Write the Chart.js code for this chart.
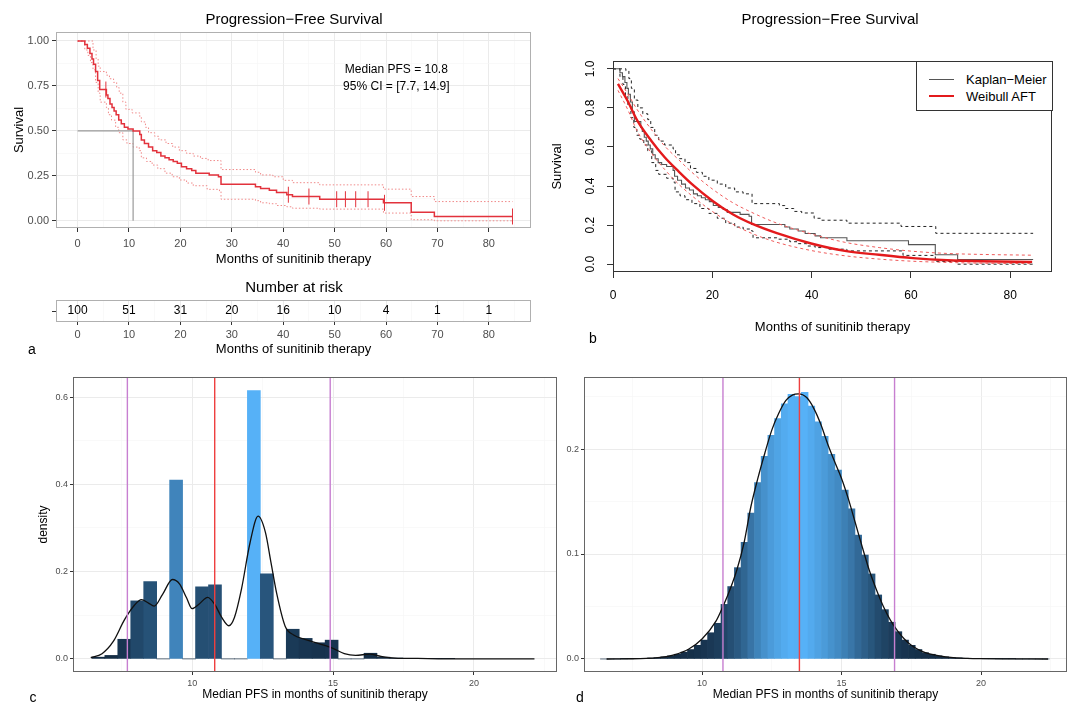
<!DOCTYPE html>
<html>
<head>
<meta charset="utf-8">
<title>Progression-Free Survival</title>
<script src="https://cdn.jsdelivr.net/npm/chart.js@4.4.1/dist/chart.umd.min.js"></script>
<style>
  body { margin: 0; background: #fff; font-family: "Liberation Sans", Arial, sans-serif; }
  #wrap { position: relative; width: 1072px; height: 704px; overflow: hidden; background: #fff; }
  canvas { position: absolute; }
  .t { position: absolute; transform: translate(-50%, -50%); white-space: nowrap; color: #000; }
  #legendB { position: absolute; left: 916px; top: 61px; width: 135px; height: 48px; border: 1px solid #333; background: #fff; font-size: 13px; }
  #legendB .ln { position: absolute; left: 12px; width: 25px; }
  #legendB .tx { position: absolute; left: 49px; transform: translateY(-50%); white-space: nowrap; }
</style>
</head>
<body>
<div id="wrap">
  <canvas id="chartA" width="540" height="272" style="left:0;top:0"></canvas>
  <canvas id="chartRisk" width="540" height="80" style="left:0;top:278px"></canvas>
  <canvas id="chartB" width="532" height="350" style="left:540px;top:0"></canvas>
  <canvas id="chartC" width="565" height="344" style="left:0;top:360px"></canvas>
  <canvas id="chartD" width="532" height="344" style="left:540px;top:360px"></canvas>

  <div class="t" style="left:294px;top:18px;font-size:15px">Progression−Free Survival</div>
  <div class="t" style="left:294px;top:286px;font-size:15px">Number at risk</div>
  <div class="t" style="left:830px;top:18px;font-size:15px">Progression−Free Survival</div>
  <div class="t" style="left:32px;top:349px;font-size:14px">a</div>
  <div class="t" style="left:593px;top:338px;font-size:14px">b</div>
  <div class="t" style="left:33px;top:697px;font-size:14px">c</div>
  <div class="t" style="left:580px;top:697px;font-size:14px">d</div>

  <div id="legendB">
    <div class="ln" style="top:17px;border-top:1px solid #555"></div>
    <div class="tx" style="top:17px">Kaplan−Meier</div>
    <div class="ln" style="top:33px;border-top:2px solid #e31a1c"></div>
    <div class="tx" style="top:34px">Weibull AFT</div>
  </div>
</div>

<script>
// ---- Kaplan-Meier estimate (panels a and b) ----
const kmTime = [0, 1.4, 1.9, 2.4, 2.8, 3.1, 3.5, 3.9, 4.3, 5.6, 5.9, 6.3, 6.7, 7.1, 7.5, 8.0, 8.5, 9.1, 9.8, 10.8, 12.1, 12.4, 13.0, 13.8, 14.6, 15.4, 16.2, 17.0, 17.8, 18.6, 19.4, 20.2, 21.2, 22.2, 23.0, 25.6, 27.4, 27.9, 34.6, 35.6, 37.3, 38.7, 40.7, 41.8, 47.1, 59.5, 64.9, 69.4, 84.6];
const kmSurv = [1.00, 0.98, 0.96, 0.93, 0.90, 0.87, 0.83, 0.78, 0.73, 0.70, 0.68, 0.65, 0.63, 0.61, 0.59, 0.56, 0.54, 0.52, 0.51, 0.50, 0.48, 0.45, 0.43, 0.41, 0.39, 0.38, 0.36, 0.35, 0.34, 0.33, 0.32, 0.30, 0.29, 0.28, 0.265, 0.255, 0.245, 0.203, 0.19, 0.18, 0.17, 0.157, 0.145, 0.135, 0.12, 0.10, 0.048, 0.024, 0.024];
const censorTime = [5.5, 41.0, 45.0, 50.4, 52.1, 54.1, 56.5, 59.7, 84.6];
const censorSurv = [0.73, 0.145, 0.135, 0.12, 0.12, 0.12, 0.12, 0.10, 0.024];

// 95% band, panel a (ggsurvplot)
const ciUpTimeA = [0, 3.0, 3.6, 4.0, 4.4, 5.6, 6.2, 7.0, 7.6, 8.1, 8.8, 9.4, 10.6, 12.1, 12.4, 13.2, 13.8, 15.0, 15.8, 17.2, 18.5, 19.8, 21.2, 22.5, 23.9, 25.4, 27.9, 34.6, 35.6, 38.0, 40.0, 41.8, 47.1, 59.5, 64.9, 69.4, 84.6];
const ciUpA = [1.00, 0.95, 0.90, 0.86, 0.83, 0.81, 0.79, 0.77, 0.74, 0.71, 0.66, 0.62, 0.60, 0.58, 0.55, 0.52, 0.49, 0.47, 0.45, 0.43, 0.41, 0.39, 0.375, 0.36, 0.347, 0.335, 0.285, 0.27, 0.255, 0.245, 0.225, 0.212, 0.20, 0.176, 0.135, 0.107, 0.107];
const ciLoTimeA = [0, 1.4, 2.0, 2.5, 3.0, 3.5, 4.0, 4.4, 5.6, 6.0, 6.6, 7.4, 8.0, 8.8, 9.6, 10.8, 12.0, 12.4, 13.4, 14.5, 15.6, 17.0, 18.4, 19.8, 21.2, 22.5, 25.2, 27.6, 27.9, 34.6, 35.6, 37.3, 38.7, 40.7, 41.8, 47.1, 59.5, 64.9, 69.4, 84.6];
const ciLoA = [1.00, 0.95, 0.92, 0.88, 0.84, 0.77, 0.71, 0.66, 0.63, 0.59, 0.56, 0.52, 0.49, 0.45, 0.43, 0.41, 0.39, 0.35, 0.33, 0.31, 0.29, 0.265, 0.245, 0.227, 0.21, 0.195, 0.175, 0.163, 0.12, 0.112, 0.10, 0.095, 0.085, 0.078, 0.07, 0.065, 0.043, 0.006, 0.0, 0.0];
const medianPFS = 10.8;

// number at risk table
const riskTimes = [0, 10, 20, 30, 40, 50, 60, 70, 80];
const riskCounts = [100, 51, 31, 20, 16, 10, 4, 1, 1];

// 95% band, panel b (base R survfit)
const ciUpTimeB = [0, 2.6, 3.2, 3.7, 4.3, 5.0, 6.0, 7.0, 7.6, 8.4, 9.2, 10.4, 12.1, 12.6, 13.4, 14.5, 15.6, 16.8, 18.0, 19.3, 21.0, 22.7, 24.5, 26.2, 28.0, 33.5, 34.6, 36.4, 38.0, 40.5, 42.0, 47.1, 58.0, 65.0, 84.6];
const ciUpB = [1.0, 0.99, 0.95, 0.90, 0.84, 0.80, 0.77, 0.74, 0.70, 0.66, 0.63, 0.61, 0.59, 0.56, 0.54, 0.52, 0.49, 0.47, 0.45, 0.43, 0.41, 0.39, 0.37, 0.36, 0.31, 0.30, 0.285, 0.27, 0.262, 0.235, 0.225, 0.21, 0.193, 0.158, 0.158];
const ciLoTimeB = [0, 1.4, 2.0, 2.5, 3.0, 3.6, 4.2, 4.8, 5.4, 6.2, 7.0, 7.8, 8.6, 9.2, 10.8, 12.1, 12.5, 13.5, 14.5, 15.9, 17.5, 19.3, 21.0, 22.7, 24.5, 26.2, 27.9, 28.2, 33.0, 35.6, 37.3, 39.0, 40.7, 43.3, 47.1, 58.4, 64.9, 69.4, 84.6];
const ciLoB = [1.0, 0.96, 0.92, 0.86, 0.81, 0.75, 0.70, 0.66, 0.64, 0.61, 0.58, 0.52, 0.48, 0.46, 0.44, 0.42, 0.37, 0.35, 0.33, 0.31, 0.285, 0.26, 0.235, 0.21, 0.19, 0.18, 0.17, 0.135, 0.128, 0.115, 0.105, 0.093, 0.085, 0.077, 0.068, 0.045, 0.014, 0.0, 0.0];

// Weibull AFT fit with its band
const wbTime = [1.0, 2.9, 4.9, 7.7, 10.4, 13.2, 15.9, 20.0, 24.1, 28.2, 33.0, 39.9, 46.7, 53.6, 60.4, 67.3, 74.1, 84.4];
const wbSurv = [0.923, 0.838, 0.735, 0.632, 0.547, 0.475, 0.41, 0.325, 0.256, 0.205, 0.159, 0.106, 0.068, 0.048, 0.031, 0.02, 0.015, 0.012];
const wbUpper = [0.95, 0.875, 0.79, 0.69, 0.605, 0.535, 0.47, 0.385, 0.315, 0.262, 0.21, 0.155, 0.112, 0.085, 0.066, 0.055, 0.05, 0.046];
const wbLower = [0.89, 0.795, 0.68, 0.57, 0.485, 0.41, 0.35, 0.27, 0.205, 0.155, 0.112, 0.07, 0.043, 0.026, 0.015, 0.009, 0.005, 0.003];

// ---- panel c: bootstrap medians (KM) ----
const histXC = [6.67, 7.13, 7.59, 8.05, 8.51, 8.97, 9.43, 9.89, 10.35, 10.81, 11.27, 11.73, 12.19, 12.65, 13.11, 13.57, 14.03, 14.49, 14.95, 15.41, 15.87, 16.33, 16.79, 17.25, 17.71, 18.17, 18.63, 19.09];
const histYC = [0.004, 0.008, 0.045, 0.133, 0.177, 0, 0.41, 0, 0.165, 0.17, 0, 0, 0.615, 0.195, 0, 0.068, 0.047, 0.037, 0.043, 0, 0, 0.013, 0.004, 0.002, 0.001, 0.001, 0.0005, 0.0005];
const densXC = [6.4, 6.8, 7.2, 7.6, 7.95, 8.2, 8.45, 8.65, 8.95, 9.3, 9.55, 9.8, 10.0, 10.25, 10.55, 10.8, 11.05, 11.3, 11.5, 11.75, 12.05, 12.34, 12.6, 12.8, 13.0, 13.3, 13.6, 14.0, 14.5, 15.0, 15.4, 15.8, 16.3, 16.7, 17.2, 18.0, 19.0, 22.15];
const densYC = [0.003, 0.012, 0.04, 0.09, 0.123, 0.136, 0.128, 0.121, 0.148, 0.182, 0.172, 0.14, 0.115, 0.126, 0.141, 0.125, 0.095, 0.076, 0.095, 0.16, 0.265, 0.327, 0.29, 0.22, 0.15, 0.075, 0.055, 0.045, 0.035, 0.024, 0.012, 0.008, 0.011, 0.006, 0.002, 0.001, 0.0, 0.0];
const medianC = 10.8;
const ciC = [7.7, 14.9];

// ---- panel d: bootstrap medians (Weibull) ----
const histXD = [6.48, 6.72, 6.96, 7.20, 7.44, 7.68, 7.92, 8.16, 8.40, 8.64, 8.88, 9.12, 9.36, 9.60, 9.84, 10.08, 10.32, 10.56, 10.80, 11.04, 11.28, 11.52, 11.76, 12.00, 12.24, 12.48, 12.72, 12.96, 13.20, 13.44, 13.68, 13.92, 14.16, 14.40, 14.64, 14.88, 15.12, 15.36, 15.60, 15.84, 16.08, 16.32, 16.56, 16.80, 17.04, 17.28, 17.52, 17.76, 18.00, 18.24, 18.48, 18.72, 18.96, 19.20, 19.44, 19.68, 19.92, 20.16, 20.40, 20.64, 20.88, 21.12, 21.36, 21.60, 21.84, 22.08, 22.32];
const histYD = [0, 0, 0, 0.0001, 0.0002, 0.0003, 0.0005, 0.0008, 0.0012, 0.002, 0.003, 0.0045, 0.0065, 0.009, 0.013, 0.018, 0.025, 0.034, 0.052, 0.069, 0.087, 0.111, 0.139, 0.168, 0.193, 0.213, 0.229, 0.243, 0.252, 0.250, 0.254, 0.241, 0.226, 0.212, 0.195, 0.180, 0.161, 0.143, 0.118, 0.099, 0.081, 0.061, 0.047, 0.035, 0.026, 0.018, 0.013, 0.009, 0.006, 0.0045, 0.003, 0.002, 0.0014, 0.001, 0.0007, 0.0005, 0.0003, 0.0002, 0.0002, 0.0001, 0.0001, 0.0001, 0, 0, 0, 0, 0];
const densXD = [6.58, 7.5, 8.0, 8.5, 9.0, 9.5, 10.0, 10.5, 10.75, 11.0, 11.25, 11.5, 11.75, 12.0, 12.25, 12.5, 12.75, 13.0, 13.25, 13.45, 13.75, 14.0, 14.25, 14.5, 14.75, 15.0, 15.25, 15.5, 15.75, 16.0, 16.25, 16.5, 16.75, 17.0, 17.25, 17.5, 17.75, 18.0, 18.5, 19.0, 19.5, 20.0, 21.0, 22.4];
const densYD = [0, 0.0002, 0.0006, 0.0015, 0.004, 0.009, 0.019, 0.036, 0.05, 0.066, 0.085, 0.11, 0.145, 0.172, 0.196, 0.218, 0.234, 0.246, 0.2515, 0.2525, 0.249, 0.239, 0.224, 0.205, 0.188, 0.172, 0.152, 0.129, 0.106, 0.084, 0.066, 0.05, 0.037, 0.027, 0.019, 0.013, 0.009, 0.006, 0.003, 0.0013, 0.0006, 0.0003, 0.0001, 0];
const medianD = 13.49;
const ciD = [10.75, 16.9];

// axis ticks (minor ones get a grid line but no label)
const xTicksA = [0, 5, 10, 15, 20, 25, 30, 35, 40, 45, 50, 55, 60, 65, 70, 75, 80, 85];
const xMajorA = [0, 10, 20, 30, 40, 50, 60, 70, 80];
const yTicksA = [0, 0.125, 0.25, 0.375, 0.5, 0.625, 0.75, 0.875, 1];
const yMajorA = [0, 0.25, 0.5, 0.75, 1];
const xTicksB = [0, 20, 40, 60, 80];
const yTicksB = [0, 0.2, 0.4, 0.6, 0.8, 1.0];
const xTicksCD = [7.5, 10, 12.5, 15, 17.5, 20, 22.5];
const xMajorCD = [10, 15, 20];
const yTicksC = [0, 0.1, 0.2, 0.3, 0.4, 0.5, 0.6];
const yMajorC = [0, 0.2, 0.4, 0.6];
const yTicksD = [0, 0.05, 0.1, 0.15, 0.2, 0.25];
const yMajorD = [0, 0.1, 0.2];

Chart.defaults.font.family = '"Liberation Sans", Arial, sans-serif';
Chart.defaults.animation = false;
Chart.defaults.events = [];
Chart.defaults.plugins.legend.display = false;
Chart.defaults.plugins.tooltip.enabled = false;

// pair two arrays into points
function pts(xs, ys) {
  return xs.map((x, i) => ({ x: x, y: ys[i] }));
}

// ggplot style fill: dark navy for low counts, light blue for the tallest bar
function fillFor(v, max) {
  const lo = [19, 43, 67], hi = [86, 177, 247];
  const t = v / max;
  const c = lo.map((l, i) => Math.round(l + (hi[i] - l) * t));
  return `rgb(${c[0]}, ${c[1]}, ${c[2]})`;
}

// box round the plotting area
function frame(color) {
  return {
    id: 'frame',
    afterDatasetsDraw(chart) {
      const a = chart.chartArea, ctx = chart.ctx;
      ctx.save();
      ctx.strokeStyle = color;
      ctx.lineWidth = 1;
      ctx.strokeRect(Math.round(a.left) + 0.5, Math.round(a.top) + 0.5, Math.round(a.width) - 1, Math.round(a.height) - 1);
      ctx.restore();
    }
  };
}

// text placed at data coordinates
function notes(items, font) {
  return {
    id: 'notes',
    afterDatasetsDraw(chart) {
      const ctx = chart.ctx;
      ctx.save();
      ctx.font = font;
      ctx.fillStyle = '#000';
      ctx.textAlign = 'center';
      ctx.textBaseline = 'middle';
      items.forEach(it => {
        ctx.fillText(it.text, chart.scales.x.getPixelForValue(it.x), chart.scales.y.getPixelForValue(it.y));
      });
      ctx.restore();
    }
  };
}

// ggplot-like linear axis
function ggAxis(o) {
  const major = c => c.tick && o.majors.includes(c.tick.value);
  return {
    type: 'linear', min: o.min, max: o.max, offset: false,
    afterBuildTicks: ax => { ax.ticks = o.ticks.map(v => ({ value: v })); },
    afterFit: ax => { if (o.width) ax.width = o.width; if (o.height) ax.height = o.height; },
    grid: {
      offset: false,
      color: c => major(c) ? '#ebebeb' : '#f5f5f5',
      lineWidth: c => major(c) ? 1 : 0.6,
      tickColor: c => major(c) ? '#333' : 'rgba(0,0,0,0)',
      tickLength: o.tickLength || 3,
      drawOnChartArea: o.noGrid ? false : true
    },
    border: { display: false },
    ticks: {
      autoSkip: false, maxRotation: 0, padding: o.pad || 3, color: '#4d4d4d',
      font: { size: o.fs || 10 },
      callback: v => o.majors.includes(v) ? o.fmt(v) : ''
    },
    title: o.title
      ? { display: true, text: o.title, color: '#000', font: { size: o.tfs || 12 }, padding: o.tpad }
      : { display: false }
  };
}

function vline(x, y0, y1, color) {
  return { type: 'line', data: [{ x: x, y: y0 }, { x: x, y: y1 }], borderColor: color, borderWidth: 1.4, pointRadius: 0, order: 0 };
}

// ---- panel a ----
// stepped: 'before' keeps the old value until the next event time, then drops
new Chart(document.getElementById('chartA'), {
  type: 'line',
  data: {
    datasets: [
      { data: pts(kmTime, kmSurv), stepped: 'before', borderColor: '#e2323c', borderWidth: 1.5, pointRadius: 0, order: 1 },
      { data: pts(censorTime, censorSurv), showLine: false, pointStyle: 'line', pointRotation: 90, pointRadius: 8,
        borderColor: '#e2323c', borderWidth: 1, order: 0 },
      { data: [{ x: 0, y: 0.5 }, { x: medianPFS, y: 0.5 }, { x: medianPFS, y: 0 }], borderColor: '#9a9a9a', borderWidth: 1.2, pointRadius: 0, order: 2 },
      { data: pts(ciUpTimeA, ciUpA), stepped: 'before', borderColor: '#f08a8a', borderWidth: 1, borderDash: [1.5, 2], pointRadius: 0, order: 3 },
      { data: pts(ciLoTimeA, ciLoA), stepped: 'before', borderColor: '#f08a8a', borderWidth: 1, borderDash: [1.5, 2], pointRadius: 0, order: 3 }
    ]
  },
  options: {
    responsive: false,
    layout: { padding: { left: 0, top: 32, right: 9, bottom: 0 } },
    scales: {
      x: ggAxis({ min: -4.2, max: 88.2, ticks: xTicksA, majors: xMajorA, fmt: v => String(v), height: 44, tickLength: 4, pad: 5, fs: 11,
        title: 'Months of sunitinib therapy', tfs: 13, tpad: { top: 0, bottom: 5 } }),
      y: ggAxis({ min: -0.04, max: 1.05, ticks: yTicksA, majors: yMajorA, fmt: v => v.toFixed(2), width: 56, tickLength: 4, pad: 3, fs: 11,
        title: 'Survival', tfs: 13, tpad: { top: 12, bottom: 0 } })
    }
  },
  plugins: [frame('#b0b0b0'), notes([
    { x: 62, y: 0.84, text: 'Median PFS = 10.8' },
    { x: 62, y: 0.745, text: '95% CI = [7.7, 14.9]' }
  ], '12px "Liberation Sans", Arial, sans-serif')]
});

// ---- number at risk ----
new Chart(document.getElementById('chartRisk'), {
  type: 'scatter',
  data: { datasets: [{ data: riskTimes.map(t => ({ x: t, y: 0 })), pointRadius: 0 }] },
  options: {
    responsive: false,
    layout: { padding: { left: 0, top: 22, right: 9, bottom: 0 } },
    scales: {
      x: ggAxis({ min: -4.2, max: 88.2, ticks: xTicksA, majors: xMajorA, fmt: v => String(v), height: 36, tickLength: 3, pad: 3, fs: 11,
        title: 'Months of sunitinib therapy', tfs: 13, tpad: { top: 0, bottom: 1 } }),
      y: ggAxis({ min: -1, max: 1, ticks: [0], majors: [0], fmt: () => '', width: 56, tickLength: 4, noGrid: true })
    }
  },
  plugins: [frame('#b0b0b0'), notes(riskTimes.map((t, i) => ({ x: t, y: 0, text: String(riskCounts[i]) })), '12px "Liberation Sans", Arial, sans-serif')]
});

// ---- panel b (base R look) ----
function rAxis(o) {
  return {
    type: 'linear', min: o.min, max: o.max,
    afterBuildTicks: ax => { ax.ticks = o.ticks.map(v => ({ value: v })); },
    afterFit: ax => { if (o.width) ax.width = o.width; if (o.height) ax.height = o.height; },
    grid: { drawOnChartArea: false, tickLength: 6, tickColor: '#333', color: '#333' },
    border: { display: false },
    ticks: Object.assign({ autoSkip: false, color: '#000', font: { size: 12 }, padding: o.pad, callback: o.fmt }, o.rot),
    title: { display: true, text: o.title, color: '#000', font: { size: 13 }, padding: o.tpad }
  };
}

new Chart(document.getElementById('chartB'), {
  type: 'line',
  data: {
    datasets: [
      { data: pts(wbTime, wbSurv), borderColor: '#e31a1c', borderWidth: 2.4, pointRadius: 0, cubicInterpolationMode: 'monotone', order: 0 },
      { data: pts(wbTime, wbUpper), borderColor: '#ef5a5a', borderWidth: 1, borderDash: [3, 3], pointRadius: 0, cubicInterpolationMode: 'monotone', order: 1 },
      { data: pts(wbTime, wbLower), borderColor: '#ef5a5a', borderWidth: 1, borderDash: [3, 3], pointRadius: 0, cubicInterpolationMode: 'monotone', order: 1 },
      { data: pts(kmTime, kmSurv), stepped: 'before', borderColor: '#555', borderWidth: 1.1, pointRadius: 0, order: 2 },
      { data: pts(ciUpTimeB, ciUpB), stepped: 'before', borderColor: '#222', borderWidth: 1, borderDash: [3, 3], pointRadius: 0, order: 3 },
      { data: pts(ciLoTimeB, ciLoB), stepped: 'before', borderColor: '#222', borderWidth: 1, borderDash: [3, 3], pointRadius: 0, order: 3 }
    ]
  },
  options: {
    responsive: false,
    layout: { padding: { left: 0, top: 61, right: 20, bottom: 0 } },
    scales: {
      x: rAxis({ min: 0, max: 88.4, ticks: xTicksB, fmt: v => String(v), height: 78, pad: 10, rot: { maxRotation: 0 },
        title: 'Months of sunitinib therapy', tpad: { top: 0, bottom: 15 } }),
      y: rAxis({ min: -0.04, max: 1.04, ticks: yTicksB, fmt: v => v.toFixed(1), width: 73, pad: 8,
        rot: { minRotation: 90, maxRotation: 90, crossAlign: 'center' },
        title: 'Survival', tpad: { top: 10, bottom: 0 } })
    }
  },
  plugins: [frame('#333')]
});

// ---- panels c and d: histogram + density + median / CI lines ----
function bootChart(id, o) {
  const maxY = Math.max(...o.histY);
  new Chart(document.getElementById(id), {
    type: 'bar',
    data: {
      datasets: [
        vline(o.median, o.yMin, o.yMax, '#ee4040'),
        vline(o.ci[0], o.yMin, o.yMax, '#c77fd0'),
        vline(o.ci[1], o.yMin, o.yMax, '#c77fd0'),
        { type: 'line', data: pts(o.densX, o.densY), borderColor: '#111', borderWidth: 1.3, pointRadius: 0,
          cubicInterpolationMode: 'monotone', order: 1 },
        { data: pts(o.histX, o.histY), backgroundColor: o.histY.map(v => fillFor(v, maxY)), borderWidth: 0,
          barPercentage: 1, categoryPercentage: 1, order: 2 }
      ]
    },
    options: {
      responsive: false,
      layout: { padding: { left: 0, top: 17, right: o.padRight, bottom: 0 } },
      scales: {
        x: ggAxis({ min: 5.77, max: o.xMax, ticks: xTicksCD, majors: xMajorCD, fmt: v => String(v), height: 32, pad: 3, fs: 9,
          title: 'Median PFS in months of sunitinib therapy', tfs: 12, tpad: { top: 0, bottom: 2 } }),
        y: ggAxis({ min: o.yMin, max: o.yMax, ticks: o.yTicks, majors: o.yMajor, fmt: v => v.toFixed(1), width: o.yWidth, pad: 2, fs: 9,
          title: o.yTitle, tfs: 12, tpad: { top: 36, bottom: 0 } })
      }
    },
    plugins: [frame('#666')]
  });
}

bootChart('chartC', {
  histX: histXC, histY: histYC, densX: densXC, densY: densYC, median: medianC, ci: ciC,
  yMin: -0.03, yMax: 0.646, yTicks: yTicksC, yMajor: yMajorC, xMax: 22.95, padRight: 8, yWidth: 73, yTitle: 'density'
});

bootChart('chartD', {
  histX: histXD, histY: histYD, densX: densXD, densY: densYD, median: medianD, ci: ciD,
  yMin: -0.0124, yMax: 0.2686, yTicks: yTicksD, yMajor: yMajorD, xMax: 23.08, padRight: 5, yWidth: 44, yTitle: ''
});
</script>
</body>
</html>
